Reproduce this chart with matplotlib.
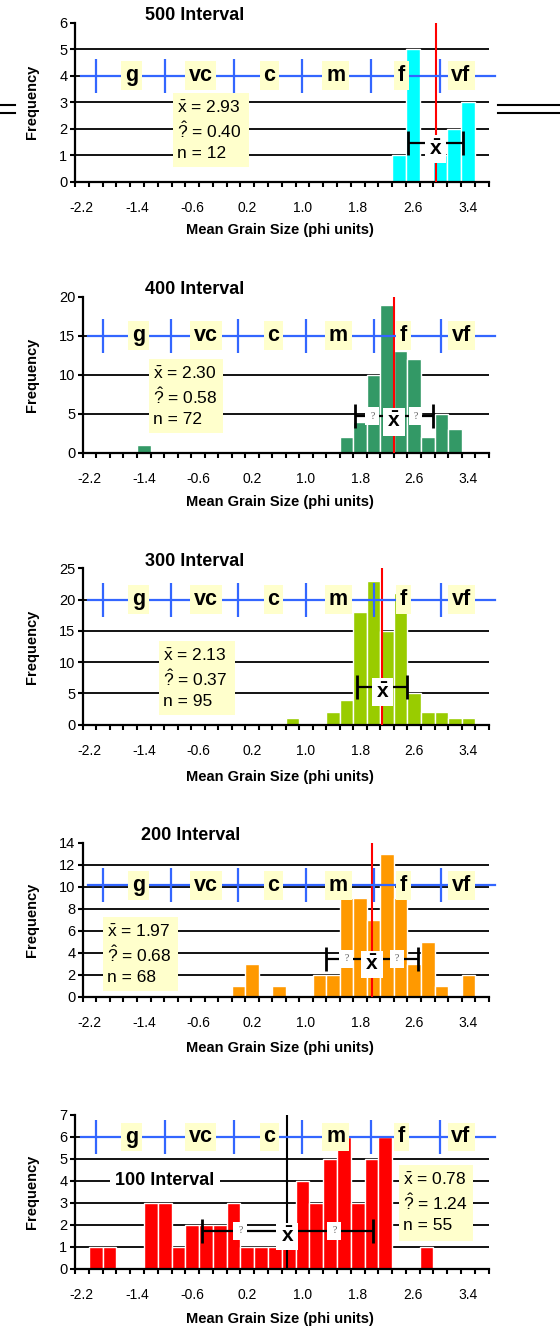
import numpy as np
import matplotlib
matplotlib.use("Agg")
import matplotlib.pyplot as plt
from matplotlib.patches import Rectangle
from matplotlib.lines import Line2D

plt.rcParams['font.family'] = ['Liberation Sans', 'DejaVu Sans']
plt.rcParams['mathtext.fontset'] = 'custom'
plt.rcParams['mathtext.rm'] = 'Liberation Sans'
plt.rcParams['mathtext.bf'] = 'Liberation Sans:bold'
plt.rcParams['mathtext.it'] = 'Liberation Sans:italic'

W, H = 560, 1329

# ---- data (bin centre in phi, frequency) ----
bins_500 = [2.4, 2.6, 3.0, 3.2, 3.4]
freq_500 = [1, 5, 1, 2, 3]
bins_400 = [-1.4, 1.6, 1.8, 2.0, 2.2, 2.4, 2.6, 2.8, 3.0, 3.2]
freq_400 = [1, 2, 4, 10, 19, 13, 12, 2, 5, 3]
bins_300 = [0.8, 1.4, 1.6, 1.8, 2.0, 2.2, 2.4, 2.6, 2.8, 3.0, 3.2, 3.4]
freq_300 = [1, 2, 4, 18, 23, 15, 21, 5, 2, 2, 1, 1]
bins_200 = [0.0, 0.2, 0.6, 1.2, 1.4, 1.6, 1.8, 2.0, 2.2, 2.4, 2.6, 2.8, 3.0, 3.4]
freq_200 = [1, 3, 1, 2, 2, 9, 9, 7, 13, 9, 3, 5, 1, 2]
bins_100 = [-2.0, -1.8, -1.2, -1.0, -0.8, -0.6, -0.4, -0.2, 0.0, 0.2, 0.4,
            0.6, 0.8, 1.0, 1.2, 1.4, 1.6, 1.8, 2.0, 2.2, 2.8]
freq_100 = [1, 1, 3, 3, 1, 2, 2, 2, 3, 1, 1, 1, 1, 4, 3, 5, 6, 3, 5, 6, 1]

titles = ['500 Interval', '400 Interval', '300 Interval', '200 Interval', '100 Interval']
means = [2.93, 2.30, 2.13, 1.97, 0.78]
sigmas = [0.40, 0.58, 0.37, 0.68, 1.24]
counts = [12, 72, 95, 68, 55]

x_labels = ['-2.2', '-1.4', '-0.6', '0.2', '1.0', '1.8', '2.6', '3.4']
y_max = [6, 20, 25, 14, 7]
y_step = [1, 5, 5, 2, 1]

# Wentworth classes
class_edges = [-2, -1, 0, 1, 2, 3]
class_names = ['g', 'vc', 'c', 'm', 'f', 'vf']
class_pos = [-1.48, -0.48, 0.52, 1.48, 2.44, 3.3]

bar_colors = ['#00ffff', '#339966', '#99cc00', '#ff9900', '#ff0000']
mean_colors = ['#ff0000', '#ff0000', '#ff0000', '#ff0000', '#000000']
blue = '#3366ff'
yellow = '#ffffcc'

# ---- layout in pixels ----
ax_px = [(75, 488.6, 22.7, 181.7), (82.9, 488.6, 296.7, 452.7),
         (82.9, 488.6, 568.3, 724.7), (82.9, 488.6, 842.7, 997),
         (75, 488.6, 1115, 1269)]
scale_y = [4, 15, 20, 10.15, 6]
err_y = [1.45, 4.7, 6.05, 3.45, 1.73]
show_sigma = [False, True, False, True, True]
stats_px = [(173, 249, 93.3, 166.7), (149, 223, 359, 432.7),
            (159, 234.6, 641, 715), (102.9, 177.5, 916.7, 991),
            (399, 472.5, 1165, 1241)]
title_px = [(144.6, 15), (144.6, 289.3), (144.6, 561.7), (141, 835), (165, 1180.7)]
xlabel_y = [230, 501.7, 776.7, 1048.3, 1319.3]


def fx(x):
    return x / W


def fy(y):
    return 1 - y / H


all_bins = [bins_500, bins_400, bins_300, bins_200, bins_100]
all_freq = [freq_500, freq_400, freq_300, freq_200, freq_100]

fig = plt.figure(figsize=(W / 100, H / 100), dpi=100)

for i in range(5):
    l, r, t, b = ax_px[i]
    ax = fig.add_axes([fx(l), fy(b), (r - l) / W, (b - t) / H])
    ax.set_xlim(-2.3, 3.7)
    ax.set_ylim(0, y_max[i])
    for s in ['top', 'right']:
        ax.spines[s].set_visible(False)
    for s in ['left', 'bottom']:
        ax.spines[s].set_linewidth(1.6)

    # ticks
    edges = -2.3 + 0.2 * np.arange(31)
    ax.set_xticks(edges, minor=True)
    ax.set_xticks([float(v) for v in x_labels])
    ax.set_xticklabels(x_labels)
    ax.tick_params(axis='x', which='minor', length=3.5, width=1.5, direction='out')
    ax.tick_params(axis='x', which='major', length=0, pad=14, labelsize=10)
    yt = np.arange(0, y_max[i] + 0.1, y_step[i])
    ax.set_yticks(yt)
    ax.set_yticklabels([str(int(v)) for v in yt])
    ax.tick_params(axis='y', length=3.5, width=1.5, pad=2, labelsize=10.5)

    # gridlines
    for v in yt[1:-1]:
        ax.axhline(v, color='black', lw=1.3, zorder=1)

    # histogram
    ax.bar(all_bins[i], all_freq[i], width=0.2, color=bar_colors[i],
           edgecolor='white', linewidth=1.0, zorder=2)

    # mean line
    ax.axvline(means[i], color=mean_colors[i], lw=1.5, zorder=3)

    # grain size scale
    by = scale_y[i]
    ax.plot([-2.22, 3.8], [by, by], color=blue, lw=1.6, zorder=4, clip_on=False)
    ax.plot(class_edges, [by] * len(class_edges), linestyle='none', marker='|',
            markersize=24, markeredgewidth=1.6, color=blue, zorder=4)
    for name, xp in zip(class_names, class_pos):
        ax.text(xp, by, name, ha='center', va='center', fontsize=15.5,
                fontweight='bold', zorder=5,
                bbox=dict(boxstyle='square,pad=0.18', fc=yellow, ec='none'))

    # mean +/- sigma bar
    ax.errorbar(means[i], err_y[i], xerr=sigmas[i], fmt='none', ecolor='black',
                elinewidth=1.6, capsize=8.5, capthick=2, zorder=6)
    ax.annotate(r'$\mathbf{\bar{x}}$', xy=(means[i], err_y[i]), xytext=(0, -4),
                textcoords='offset points', ha='center', va='center',
                fontsize=15, zorder=7,
                bbox=dict(boxstyle='square,pad=0.2', fc='white', ec='none'))
    if show_sigma[i]:
        for sgn in (-1, 1):
            ax.text(means[i] + sgn * 0.55 * sigmas[i], err_y[i], '?',
                    ha='center', va='center', fontsize=7, color='#555555',
                    family='Liberation Serif', zorder=7,
                    bbox=dict(boxstyle='square,pad=0.5', fc='white', ec='none'))

    # stats box
    x0, x1, y0, y1 = stats_px[i]
    ax.add_patch(Rectangle((fx(x0), fy(y1)), (x1 - x0) / W, (y1 - y0) / H,
                           transform=fig.transFigure, fc=yellow, ec='none',
                           zorder=5, clip_on=False))
    lines = [r'$\bar{\mathrm{x}}$ = %.2f' % means[i],
             r'$\hat{?}$ = %.2f' % sigmas[i],
             'n = %d' % counts[i]]
    for k, txt in enumerate(lines):
        ax.text(fx(x0 + 4), fy(y0 + 14.7 + 23 * k), txt, transform=fig.transFigure,
                ha='left', va='center', fontsize=12.5, zorder=6, clip_on=False)

    # title
    tx, ty = title_px[i]
    if i < 4:
        fig.text(fx(tx), fy(ty), titles[i], ha='left', va='center',
                 fontsize=13, fontweight='bold')
    else:
        ax.text(fx(tx), fy(ty), titles[i], transform=fig.transFigure,
                ha='center', va='center', fontsize=13, fontweight='bold', zorder=5,
                bbox=dict(boxstyle='square,pad=0.3', fc='white', ec='none'))

    # axis labels
    ax.set_xlabel('Mean Grain Size (phi units)', fontsize=10.5, fontweight='bold')
    ax.xaxis.set_label_coords((280 - l) / (r - l), -(xlabel_y[i] - b) / (b - t))
    ax.xaxis.label.set_va('center')
    ax.set_ylabel('Frequency', fontsize=10.5, fontweight='bold')
    ax.yaxis.set_label_coords((38.6 - l) / (r - l), 0.5)

# double rule decorations beside the top chart
for yy in (104.5, 112.8):
    fig.add_artist(Line2D([0, fx(15)], [fy(yy), fy(yy)], color='black', lw=1.5))
    fig.add_artist(Line2D([fx(498), 1], [fy(yy), fy(yy)], color='black', lw=1.5))

fig.savefig('out.png', dpi=100)
